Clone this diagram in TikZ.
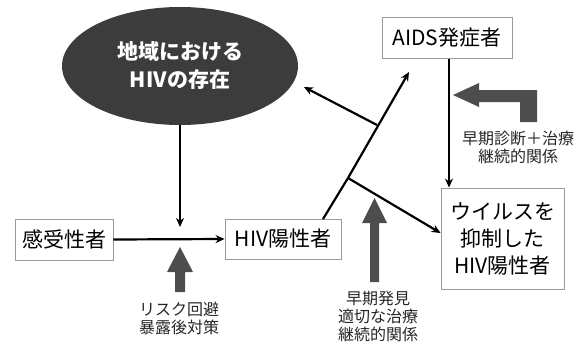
\documentclass[tikz,border=0pt]{standalone}
\usepackage{fontspec}
\usetikzlibrary{arrows.meta,shapes.geometric}
\newfontfamily\jp{Noto Sans CJK JP}
\definecolor{ovalgray}{HTML}{3C3C3C}
\definecolor{arrowgray}{HTML}{4D4D4D}
\definecolor{boxline}{HTML}{9A9A9A}
\begin{document}
\begin{tikzpicture}[x=1pt,y=-1pt,
  box/.style={draw=boxline,line width=0.9pt,fill=white,inner sep=0pt,font=\jp\fontsize{21}{27}\selectfont,align=center},
  conn/.style={line width=2.2pt,-{Stealth[length=9pt,width=8pt]}},
  plain/.style={line width=2.2pt},
  note/.style={font=\jp\fontsize{16}{18}\selectfont,align=center,text=black!85},
  fat/.style={fill=arrowgray,draw=none}]
\useasboundingbox (0,0) rectangle (586,351);
% nodes
\node[ellipse,fill=ovalgray,minimum width=236,minimum height=118,inner sep=0pt,
      font=\jp\bfseries\fontsize{21}{28}\selectfont,text=white,align=center] (hiv0) at (180,66) {地域における\\HIVの存在};
\node[box,minimum width=98,minimum height=41] (kan) at (64,239.5) {感受性者};
\node[box,minimum width=116,minimum height=40] (hiv) at (283,239) {HIV陽性者};
\node[box,minimum width=130,minimum height=41] (aids) at (447,38) {AIDS発症者};
\node[box,minimum width=123,minimum height=101] (uir) at (502.5,238.5) {ウイルスを\\抑制した\\HIV陽性者};
% coordinates
\coordinate (hs) at (323,219);
\coordinate (j1) at (348,178);
\coordinate (j2) at (377,125);
\coordinate (tipA) at (409,72);
\coordinate (tipE) at (304,87);
\coordinate (tipH) at (180,227);
% connectors
\draw[conn] (kan.east) -- (hiv.west);
\draw[conn] (hiv0.south) -- (tipH);
\draw[plain] (hs) -- (j1);
\draw[conn] (j1) -- (tipA);
\draw[conn] (j2) -- (tipE);
\draw[conn] (j1) -- (uir.north west |- 0,233) ;
\draw[conn] (aids.south -| 449,0) -- (uir.north -| 449,0);
% fat gray arrows
\fill[fat] (175,292) -- (175,272) -- (167,272) -- (180,247) -- (193,272) -- (185,272) -- (185,292) -- cycle;
\fill[fat] (370,282) -- (370,223) -- (362,223) -- (374.5,198) -- (387,223) -- (379,223) -- (379,282) -- cycle;
\fill[fat] (453,95) -- (479,83) -- (479,90) -- (537,90) -- (537,122) -- (520,122) -- (520,102) -- (479,102) -- (479,107) -- cycle;
% notes
\node[note] (n1) at (179,318) {リスク回避\\暴露後対策};
\node[note] (n2) at (378,316) {早期発見\\適切な治療\\継続的関係};
\node[note] (n3) at (518,147) {早期診断＋治療\\継続的関係};
\end{tikzpicture}
\end{document}
